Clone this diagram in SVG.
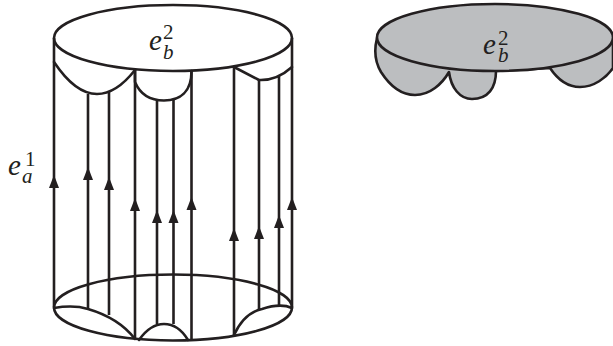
<svg xmlns="http://www.w3.org/2000/svg" width="613" height="346" viewBox="0 0 613 346">
<style>
.l{fill:none;stroke:#231f20;stroke-width:2.6;stroke-linecap:round;stroke-linejoin:round}
.v{fill:none;stroke:#231f20;stroke-width:2.6}
.g{fill:#bcbec0;stroke:#231f20;stroke-width:2.6;stroke-linejoin:round}
.t{font-family:"Liberation Serif",serif;font-style:italic;fill:#231f20;font-size:29px}
.s{font-size:21px}
.n{font-style:normal}
.a{fill:#231f20}
</style>
<defs><path id="h" class="a" d="M0 0L5 13H-5Z"/></defs>
<rect width="613" height="346" fill="#fff"/>
<g id="connectors">
<path class="v" d="M54 38V307M88 94V309M109 92V315M135 70V339M157 100V324M173.500 100V324M191.500 70V340M234 67V335M259 80V310M279 76V305M292 38V307"/>
<use href="#h" x="54" y="175"/><use href="#h" x="88" y="167"/><use href="#h" x="109" y="177"/><use href="#h" x="135" y="198"/><use href="#h" x="157" y="210"/><use href="#h" x="173.500" y="210"/><use href="#h" x="191.500" y="197"/><use href="#h" x="234" y="228"/><use href="#h" x="259" y="226"/><use href="#h" x="279" y="215"/><use href="#h" x="292" y="197"/>
</g>
<g id="cylinder-top">
<ellipse class="l" cx="173" cy="38" rx="119" ry="33"/>
<path class="l" d="M54 62C66 80 80 94 97 94C112 94 124 84 135 70"/>
<path class="l" d="M135 70V82C140 94 150 100.500 164 100.500C180 100.500 191.500 92 191.500 71"/>
<path class="l" d="M234 67L259 80C270 80.500 282 76 292 67"/>
</g>
<g id="cylinder-bottom">
<ellipse class="l" cx="173" cy="307.500" rx="119" ry="33"/>
<path class="l" d="M54 308C66 306 78 306 88 309C105 314 122 322 135 339"/>
<path class="l" d="M139 340C146 330 154 324 164 324C174 324 182 330 188 340"/>
<path class="l" d="M234 335C240 322 248 312 262 309C274 305 283 304 292 308"/>
</g>
<g id="disc">
<path class="g" d="M377 38C374 50 375 62 381 72C390 86 402 95 415 95C430 95 442 84 449 72C451 88 460 99 472 99C488 99 496 88 496 71L550 68C558 80 568 87 580 87C594 87 606 78 613 68V38Z"/>
<ellipse class="g" cx="495" cy="37.500" rx="118" ry="33.500"/>
</g>
<g id="labels">
<text class="t" x="149" y="50">e<tspan class="s n" x="163" y="39">2</tspan><tspan class="s" x="163" y="59">b</tspan></text>
<text class="t" x="8" y="175">e<tspan class="s n" x="25" y="166">1</tspan><tspan class="s" x="22" y="183">a</tspan></text>
<text class="t" x="483" y="54">e<tspan class="s n" x="498" y="45">2</tspan><tspan class="s" x="498" y="62">b</tspan></text>
</g>
</svg>
